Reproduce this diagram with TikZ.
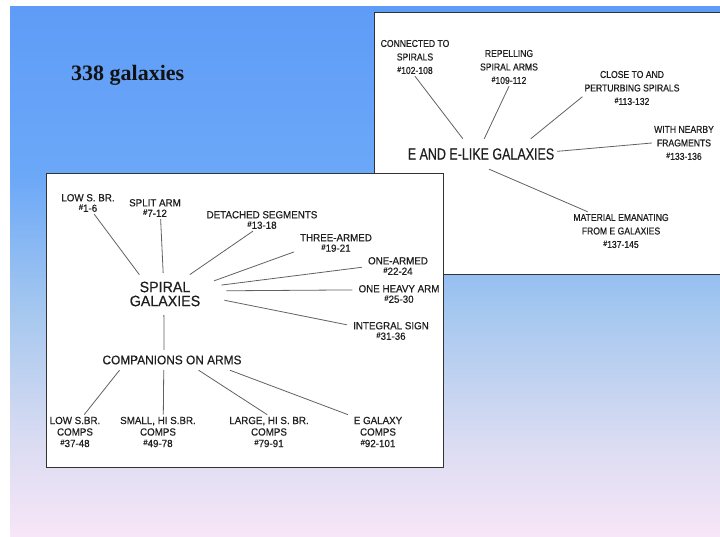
\documentclass[tikz,border=0pt]{standalone}
\usepackage{fontspec}
\setmainfont{Liberation Serif}
\setsansfont{Liberation Sans}
\newfontfamily\leftlet[FakeStretch=0.95, FakeBold=0.5]{Liberation Sans}
\newfontfamily\rightlet[FakeStretch=0.86, FakeBold=0.5]{Liberation Sans}
\newfontfamily\hublet[FakeStretch=0.78, FakeBold=0.4]{Liberation Sans}
\usetikzlibrary{shapes.geometric}
\definecolor{bgtop}{HTML}{5E9CF7}
\definecolor{bgupper}{HTML}{6CA8F8}
\definecolor{bgmid}{HTML}{A4C7EF}
\definecolor{bglav}{HTML}{DADCF2}
\definecolor{bgbot}{HTML}{F7E6F7}
\colorlet{ink}{black!88}
\colorlet{wire}{black!62}
\colorlet{cardedge}{black!80}
\pgfdeclareverticalshading{slidebg}{100bp}{color(0bp)=(bgbot); color(25bp)=(bgbot); color(34bp)=(bglav); color(46.6bp)=(bgmid); color(59bp)=(bgupper); color(75bp)=(bgtop); color(100bp)=(bgtop)}
\newcommand\catno{\raisebox{.35ex}{\footnotesize\#}}
\begin{document}
\begin{tikzpicture}[x=1pt, y=-1pt,
    every node/.style={text=ink, inner sep=2pt, align=center},
    ttl/.style={font=\bfseries\fontsize{22}{26}\selectfont, text=black!93, inner sep=0pt},
    lab/.style={font=\rightlet\fontsize{10}{13.5}\selectfont},
    tag/.style={font=\leftlet\fontsize{10.3}{10.5}\selectfont, inner xsep=6pt},
    tagc/.style={font=\leftlet\fontsize{10.3}{11.5}\selectfont, inner xsep=6pt},
    hube/.style={font=\hublet\fontsize{16}{18}\selectfont, minimum width=152pt, minimum height=30pt, inner sep=0pt},
    hubsp/.style={ellipse, font=\leftlet\fontsize{15}{14}\selectfont, minimum width=124pt, minimum height=42pt, inner sep=0pt},
    hubco/.style={font=\leftlet\fontsize{12.5}{14}\selectfont, minimum height=20pt},
    card/.style={draw=cardedge, line width=1pt},
    link/.style={draw=wire, line width=0.8pt}]
    \useasboundingbox (0,0) rectangle (720,537);
    \fill[white] (0,0) rectangle (720,537);
    \shade[shading=slidebg] (10,7) rectangle (720,537);
    \node[ttl, anchor=base west] (t) at (71,81) {338 galaxies};

    \fill[white] (374,13) rectangle (720,275);
    \draw[card] (720,13) -- (374,13) -- (374,275) -- (720,275);
    \node[hube] (ee) at (481,154) {E AND E-LIKE GALAXIES};
    \node[lab] (e1) at (415,57) {CONNECTED TO\\SPIRALS\\\catno102-108};
    \node[lab] (e2) at (509,67) {REPELLING\\SPIRAL ARMS\\\catno109-112};
    \node[lab] (e3) at (632,88) {CLOSE TO AND\\PERTURBING SPIRALS\\\catno113-132};
    \node[lab] (e4) at (684,143) {WITH NEARBY\\FRAGMENTS\\\catno133-136};
    \node[lab] (e5) at (621,231) {MATERIAL EMANATING\\FROM E GALAXIES\\\catno137-145};
    \draw[link] (ee.140) -- (e1.south);
    \draw[link] (ee.78) -- (e2.south);
    \draw[link] (ee.17) -- (e3.190);
    \draw[link] (ee.2) -- (e4.west);
    \draw[link] (ee.-62) -- (e5.150);

    \draw[card, fill=white] (46,174) rectangle (443,467);
    \node[hubsp] (sp) at (165,294) {SPIRAL\\GALAXIES};
    \node[hubco] (co) at (172,360) {COMPANIONS ON ARMS};
    \node[tag] (s1) at (88,203) {LOW S. BR.\\\catno1-6};
    \node[tag] (s2) at (155,208) {SPLIT ARM\\\catno7-12};
    \node[tag] (s3) at (262,220) {DETACHED SEGMENTS\\\catno13-18};
    \node[tag] (s4) at (336,243) {THREE-ARMED\\\catno19-21};
    \node[tag] (s5) at (398,266) {ONE-ARMED\\\catno22-24};
    \node[tag] (s6) at (399,294) {ONE HEAVY ARM\\\catno25-30};
    \node[tag] (s7) at (391,331) {INTEGRAL SIGN\\\catno31-36};
    \node[tagc] (c1) at (75,432) {LOW S.BR.\\COMPS\\\catno37-48};
    \node[tagc] (c2) at (158,432) {SMALL, HI S.BR.\\COMPS\\\catno49-78};
    \node[tagc] (c3) at (269,432) {LARGE, HI S. BR.\\COMPS\\\catno79-91};
    \node[tagc] (c4) at (378,432) {E GALAXY\\COMPS\\\catno92-101};
    \draw[link] (sp.143) -- (s1.-61);
    \draw[link] (sp.95) -- (s2.-63);
    \draw[link] (sp.38) -- (s3.231);
    \draw[link] (sp.15) -- (s4.192);
    \draw[link] (sp.9) -- (s5.182);
    \draw[link] (sp.3) -- (s6.175);
    \draw[link] (sp.-6) -- (s7.172);
    \draw[link] (sp.-93) -- (co.128);
    \draw[link] (co.191) -- (c1.62);
    \draw[link] (co.231) -- (c2.73);
    \draw[link] (co.339) -- (c3.96);
    \draw[link] (co.350) -- (c4.150);
\end{tikzpicture}
\end{document}
